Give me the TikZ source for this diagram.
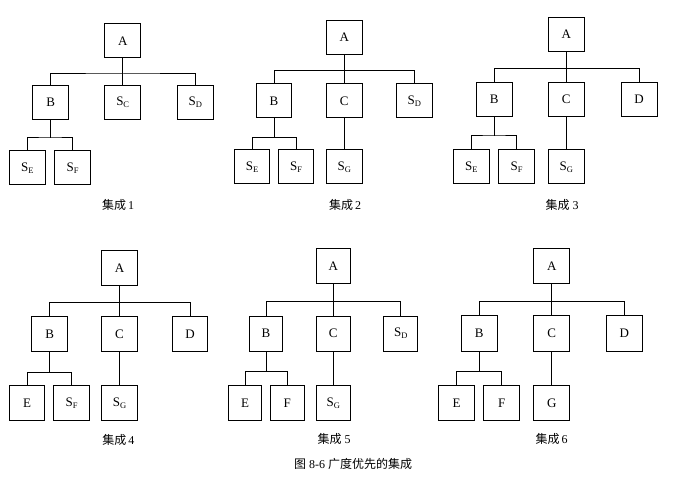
\documentclass[tikz,border=0pt]{standalone}
\usepackage{fontspec}
\setmainfont{Liberation Serif}
\newfontfamily\cjk{Noto Sans CJK SC}
\newcommand\mysub[1]{\raisebox{-0.35ex}{\fontsize{8.5}{8.5}\selectfont #1}}
\begin{document}
\begin{tikzpicture}[x=1pt,y=-1pt,
  bx/.style={draw, line width=1pt, minimum width=36pt, minimum height=34pt, inner sep=0pt, font=\fontsize{13}{13}\selectfont},
  ln/.style={line width=1pt},
  captxt/.style={font=\fontsize{12}{12}\selectfont, inner sep=0pt}]
\useasboundingbox (0,0) rectangle (695,478);
% ---------- Tree 1 ----------
\node[bx] (A1) at (122.7,41) {A};
\node[bx] (B1) at (50.7,102.5) {B};
\node[bx] (C1) at (122.7,102.5) {S\mysub{C}};
\node[bx] (D1) at (195.3,102.5) {S\mysub{D}};
\node[bx] (E1) at (27.3,168) {S\mysub{E}};
\node[bx] (F1) at (72.5,168) {S\mysub{F}};
\coordinate (j1) at (122.7,74);
\coordinate (k1) at (50.7,138);
\draw[ln] (A1.south) -- (C1.north);
\draw[ln] (B1.north) |- (j1) -| (D1.north);
\draw[ln] (B1.south) -- (k1);
\draw[ln] (E1.north) |- (k1) -| (F1.north);
\node[captxt] (t1) at (118,205) {{\cjk 集成}\,1};
% ---------- Tree 2 ----------
\begin{scope}[bx/.append style={minimum width=35.5pt}]
\node[bx] (A2) at (344.3,37.2) {A};
\node[bx] (B2) at (274,100.8) {B};
\node[bx] (C2) at (344.3,100.8) {C};
\node[bx] (D2) at (414.3,100.8) {S\mysub{D}};
\node[bx] (E2) at (252.2,167) {S\mysub{E}};
\node[bx] (F2) at (296.2,167) {S\mysub{F}};
\node[bx] (G2) at (344.3,167) {S\mysub{G}};
\end{scope}
\coordinate (j2) at (344.3,70.7);
\coordinate (k2) at (274,137.3);
\draw[ln] (A2.south) -- (C2.north);
\draw[ln] (B2.north) |- (j2) -| (D2.north);
\draw[ln] (B2.south) -- (k2);
\draw[ln] (E2.north) |- (k2) -| (F2.north);
\draw[ln] (C2.south) -- (G2.north);
\node[captxt] (t2) at (345,205) {{\cjk 集成}\,2};
% ---------- Tree 3 ----------
\node[bx] (A3) at (566.3,34.2) {A};
\node[bx] (B3) at (494.2,99.2) {B};
\node[bx] (C3) at (566.3,99.2) {C};
\node[bx] (D3) at (639,99.2) {D};
\node[bx] (E3) at (471.3,167) {S\mysub{E}};
\node[bx] (F3) at (516.7,167) {S\mysub{F}};
\node[bx] (G3) at (566.3,167) {S\mysub{G}};
\coordinate (j3) at (566.3,68.3);
\coordinate (k3) at (494.2,136);
\draw[ln] (A3.south) -- (C3.north);
\draw[ln] (B3.north) |- (j3) -| (D3.north);
\draw[ln] (B3.south) -- (k3);
\draw[ln] (E3.north) |- (k3) -| (F3.north);
\draw[ln] (C3.south) -- (G3.north);
\node[captxt] (t3) at (562,205) {{\cjk 集成} 3};
% ---------- Tree 4 ----------
\begin{scope}[bx/.append style={minimum width=35.5pt, minimum height=35pt}]
\node[bx] (A4) at (119.5,268.2) {A};
\node[bx] (B4) at (49.7,334.2) {B};
\node[bx] (C4) at (119.5,334.2) {C};
\node[bx] (D4) at (190,334.2) {D};
\node[bx] (E4) at (27,403.3) {E};
\node[bx] (F4) at (71.7,403.3) {S\mysub{F}};
\node[bx] (G4) at (119.5,403.3) {S\mysub{G}};
\end{scope}
\coordinate (j4) at (119.5,302.7);
\coordinate (k4) at (49.7,372.3);
\draw[ln] (A4.south) -- (C4.north);
\draw[ln] (B4.north) |- (j4) -| (D4.north);
\draw[ln] (B4.south) -- (k4);
\draw[ln] (E4.north) |- (k4) -| (F4.north);
\draw[ln] (C4.south) -- (G4.north);
\node[captxt] (t4) at (118.3,440) {{\cjk 集成}\,4};
% ---------- Tree 5 ----------
\begin{scope}[bx/.append style={minimum width=33.5pt, minimum height=35pt}]
\node[bx] (A5) at (333.3,266.2) {A};
\node[bx] (B5) at (266,333.5) {B};
\node[bx] (C5) at (333.3,333.5) {C};
\node[bx] (D5) at (400.7,333.5) {S\mysub{D}};
\node[bx] (E5) at (245,403.3) {E};
\node[bx] (F5) at (287.3,403.3) {F};
\node[bx] (G5) at (333.3,403.3) {S\mysub{G}};
\end{scope}
\coordinate (j5) at (333.3,301.7);
\coordinate (k5) at (266,371.7);
\draw[ln] (A5.south) -- (C5.north);
\draw[ln] (B5.north) |- (j5) -| (D5.north);
\draw[ln] (B5.south) -- (k5);
\draw[ln] (E5.north) |- (k5) -| (F5.north);
\draw[ln] (C5.south) -- (G5.north);
\node[captxt] (t5) at (334,439) {{\cjk 集成} 5};
% ---------- Tree 6 ----------
\begin{scope}[bx/.append style={minimum width=36.5pt, minimum height=35.5pt}]
\node[bx] (A6) at (551.7,266.2) {A};
\node[bx] (B6) at (479.3,333.3) {B};
\node[bx] (C6) at (551.7,333.3) {C};
\node[bx] (D6) at (624.3,333.3) {D};
\node[bx] (E6) at (456.7,403) {E};
\node[bx] (F6) at (501.7,403) {F};
\node[bx] (G6) at (551.7,403) {G};
\end{scope}
\coordinate (j6) at (551.7,301.7);
\coordinate (k6) at (479.3,371.7);
\draw[ln] (A6.south) -- (C6.north);
\draw[ln] (B6.north) |- (j6) -| (D6.north);
\draw[ln] (B6.south) -- (k6);
\draw[ln] (E6.north) |- (k6) -| (F6.north);
\draw[ln] (C6.south) -- (G6.north);
\node[captxt] (t6) at (551.7,439.3) {{\cjk 集成}\,6};
% ---------- Figure caption ----------
\node[captxt] (fig) at (353,464) {{\cjk 图} 8-6 {\cjk 广度优先的集成}};
\end{tikzpicture}
\end{document}
